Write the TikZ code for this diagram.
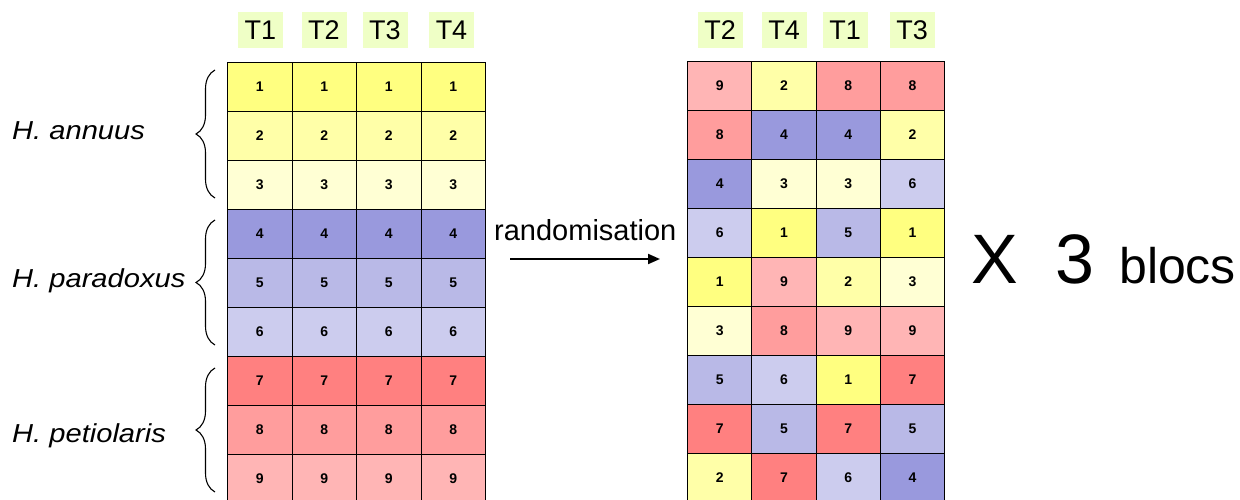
\documentclass[tikz,border=0pt]{standalone}
\usepackage{fontspec}
\setmainfont{Liberation Sans}
\newfontfamily\widefont[FakeStretch=1.12]{Liberation Sans}
\usetikzlibrary{decorations.pathreplacing,arrows.meta}
\definecolor{c1}{HTML}{FFFF80}
\definecolor{c2}{HTML}{FFFFA8}
\definecolor{c3}{HTML}{FFFFD4}
\definecolor{c4}{HTML}{9999DD}
\definecolor{c5}{HTML}{B9B9E7}
\definecolor{c6}{HTML}{CCCCEE}
\definecolor{c7}{HTML}{FF8080}
\definecolor{c8}{HTML}{FF9D9D}
\definecolor{c9}{HTML}{FFB5B5}
\definecolor{hdr}{HTML}{EFFFC6}
\begin{document}
\begin{tikzpicture}[x=1pt,y=1pt,
  cell/.style={draw=black, line width=1.2pt, minimum width=64.5pt, minimum height=49pt,
    inner sep=0, anchor=north west, font=\fontsize{14}{14}\selectfont\bfseries},
  head/.style={fill=hdr, minimum width=45pt, minimum height=36pt, inner sep=0,
    font=\fontsize{27}{27}\selectfont},
  species/.style={anchor=base west, inner sep=0, font=\widefont\itshape\fontsize{26}{26}\selectfont},
  bracestyle/.style={decorate, decoration={brace, amplitude=19pt}, line width=1.1pt},
  bigtext/.style={anchor=base west, inner sep=0, font=\fontsize{70}{70}\selectfont},
]
\useasboundingbox (0,0) rectangle (1240,499);
\clip (0,0) rectangle (1240,499);
\fill[white] (0,0) rectangle (1240,499);

% left grid
\foreach \r in {1,...,9}{
  \foreach \c in {1,...,4}{
    \node[cell, fill=c\r] (L\r-\c) at ({227+(\c-1)*64.5},{437-(\r-1)*49}) {\r};
  }
}
% right grid
\foreach \v [count=\i from 0] in {9,2,8,8, 8,4,4,2, 4,3,3,6, 6,1,5,1, 1,9,2,3, 3,8,9,9, 5,6,1,7, 7,5,7,5, 2,7,6,4}{
  \pgfmathtruncatemacro\r{div(\i,4)+1}
  \pgfmathtruncatemacro\c{mod(\i,4)+1}
  \node[cell, fill=c\v, minimum width=64.25pt] (R\r-\c) at ({687+(\c-1)*64.25},{438-(\r-1)*49}) {\v};
}

% headers
\node[head] (hl1) at (260.5,469) {T1};
\node[head] (hl2) at (324,469) {T2};
\node[head] (hl3) at (385,469) {T3};
\node[head] (hl4) at (451.5,469) {T4};
\node[head] (hr1) at (720,469) {T2};
\node[head] (hr2) at (784,469) {T4};
\node[head] (hr3) at (845,469) {T1};
\node[head] (hr4) at (912,469) {T3};

% species labels
\node[species] (sp1) at (12,359) {H. annuus};
\node[species] (sp2) at (12,212) {H. paradoxus};
\node[species] (sp3) at (12,57) {H. petiolaris};

% braces
\coordinate (b1s) at (215,301); \coordinate (b1e) at (215,429);
\coordinate (b2s) at (215,154); \coordinate (b2e) at (215,279);
\coordinate (b3s) at (215,7);   \coordinate (b3e) at (215,131);
\draw[bracestyle] (b1s) -- (b1e);
\draw[bracestyle] (b2s) -- (b2e);
\draw[bracestyle] (b3s) -- (b3e);

% randomisation arrow
\node[anchor=base west, inner sep=0, font=\fontsize{29}{29}\selectfont] (rand) at (494,259) {randomisation};
\coordinate (a1) at (510,240);
\coordinate (a2) at (660,240);
\draw[line width=2pt, -{Triangle[length=12pt,width=10pt]}] (a1) -- (a2);

% X 3 blocs
\node[bigtext] (x) at (971,216) {X};
\node[bigtext] (three) at (1055,216) {3};
\node[anchor=base west, inner sep=0, font=\fontsize{50}{50}\selectfont] (blocs) at (1119,216) {blocs};
\end{tikzpicture}
\end{document}
